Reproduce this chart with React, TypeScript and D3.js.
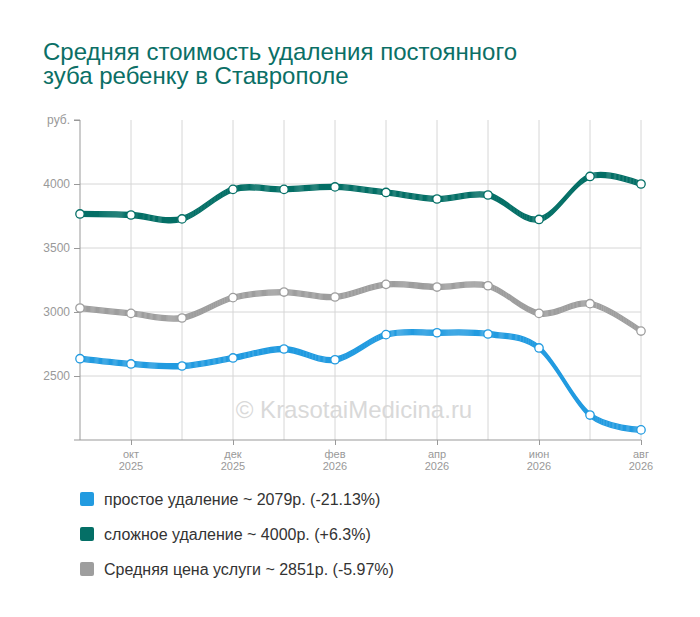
import { useEffect, useRef } from "react"
import * as d3 from "d3"

const months = ["сен", "окт", "ноя", "дек", "янв", "фев", "мар", "апр", "май", "июн", "июл", "авг"]
const years = ["2025", "2025", "2025", "2025", "2026", "2026", "2026", "2026", "2026", "2026", "2026", "2026"]
const simpleRemoval = [2635, 2594, 2578, 2641, 2711, 2627, 2823, 2838, 2828, 2719, 2195, 2079]
const complexRemoval = [3766, 3758, 3727, 3958, 3958, 3977, 3934, 3883, 3914, 3723, 4059, 4000]
const averagePrice = [3031, 2989, 2953, 3112, 3156, 3117, 3216, 3195, 3205, 2989, 3065, 2851]
const yTicks = [2500, 3000, 3500, 4000]
const labelledMonths = [1, 3, 5, 7, 9, 11]

const seriesList = [
  { name: "простое удаление ~ 2079р. (-21.13%)", values: simpleRemoval, color: "#229be0" },
  { name: "сложное удаление ~ 4000р. (+6.3%)", values: complexRemoval, color: "#046f66" },
  { name: "Средняя цена услуги ~ 2851р. (-5.97%)", values: averagePrice, color: "#9e9e9e" },
]

const width = 700
const height = 617
const font = "'Liberation Sans', Arial, sans-serif"

export default function App() {
  const svgRef = useRef<SVGSVGElement>(null)

  useEffect(() => {
    if (!svgRef.current) return
    const svg = d3.select(svgRef.current)
    svg.selectAll("*").remove()

    const left = 80
    const right = 641
    const top = 120
    const bottom = 440

    const x = d3.scaleLinear().domain([0, months.length - 1]).range([left, right])
    const y = d3.scaleLinear().domain([2000, 4500]).range([bottom, top])

    // Title
    const title = svg.append("text")
      .attr("x", 43)
      .attr("font-family", font)
      .attr("font-size", 24)
      .attr("fill", "#0b6f66")
    title.append("tspan").attr("x", 43).attr("y", 60).text("Средняя стоимость удаления постоянного")
    title.append("tspan").attr("x", 43).attr("y", 84).text("зуба ребенку в Ставрополе")

    // Watermark
    svg.append("text")
      .attr("x", 354)
      .attr("y", 418)
      .attr("text-anchor", "middle")
      .attr("font-family", font)
      .attr("font-size", 24)
      .attr("fill", "#d9d9d9")
      .text("© KrasotaiMedicina.ru")

    // Grid
    svg.append("g")
      .selectAll("line")
      .data(months.map((_, i) => i).slice(1))
      .join("line")
      .attr("x1", d => x(d))
      .attr("x2", d => x(d))
      .attr("y1", top)
      .attr("y2", bottom)
      .attr("stroke", "#d6d6d6")
      .attr("stroke-width", 1)

    svg.append("g")
      .selectAll("line")
      .data(yTicks)
      .join("line")
      .attr("x1", left)
      .attr("x2", right)
      .attr("y1", d => y(d))
      .attr("y2", d => y(d))
      .attr("stroke", "#d6d6d6")
      .attr("stroke-width", 1)

    // Y axis
    const yAxis = svg.append("g").attr("transform", `translate(${left},0)`)
      .call(d3.axisLeft(y).tickValues([...yTicks, 4500]).tickSize(6).tickPadding(4)
        .tickFormat(d => (d === 4500 ? "руб." : String(d))))
    yAxis.select(".domain").attr("stroke", "#999").attr("d", `M-6,${top}H0V${bottom}`)
    yAxis.selectAll(".tick line").attr("stroke", "#999")
    yAxis.selectAll("text")
      .attr("font-family", font)
      .attr("font-size", 12)
      .attr("fill", "#999")

    // X axis
    const xAxis = svg.append("g").attr("transform", `translate(0,${bottom})`)
      .call(d3.axisBottom(x).tickValues(labelledMonths).tickSize(5).tickFormat(() => ""))
    xAxis.select(".domain").attr("stroke", "#999").attr("d", `M${left - 6},0H${right}`)
    xAxis.selectAll(".tick line").attr("stroke", "#999")

    const xLabels = svg.append("g")
      .selectAll("text")
      .data(labelledMonths)
      .join("text")
      .attr("text-anchor", "middle")
      .attr("font-family", font)
      .attr("font-size", 11)
      .attr("fill", "#999")
    xLabels.append("tspan").attr("x", d => x(d)).attr("y", 458).text(d => months[d])
    xLabels.append("tspan").attr("x", d => x(d)).attr("y", 470).text(d => years[d])

    // Lines (ribbon made of stacked thin strokes)
    const line = d3.line<number>()
      .x((_, i) => x(i))
      .y(d => y(d))
      .curve(d3.curveCardinal.tension(0))

    const offsets = [-2.5, -1.5, -0.5, 0.5, 1.5, 2.5]
    seriesList.forEach(s => {
      const g = svg.append("g")
      offsets.forEach(o => {
        g.append("path")
          .datum(s.values)
          .attr("transform", `translate(0,${o})`)
          .attr("fill", "none")
          .attr("stroke", s.color)
          .attr("stroke-width", 1.3)
          .attr("d", line)
      })
      g.selectAll("circle")
        .data(s.values)
        .join("circle")
        .attr("cx", (_, i) => x(i))
        .attr("cy", d => y(d))
        .attr("r", 4.2)
        .attr("fill", "#fff")
        .attr("stroke", s.color)
        .attr("stroke-width", 1.3)
    })

    // Legend
    const legend = svg.append("g")
      .selectAll("g")
      .data(seriesList)
      .join("g")
      .attr("transform", (_, i) => `translate(80,${492 + i * 35})`)
    legend.append("rect")
      .attr("width", 14)
      .attr("height", 14)
      .attr("rx", 2)
      .attr("fill", d => d.color)
    legend.append("text")
      .attr("x", 24)
      .attr("y", 12.5)
      .attr("font-family", font)
      .attr("font-size", 16)
      .attr("fill", "#333")
      .text(d => d.name)
  }, [])

  return (
    <svg
      ref={svgRef}
      width={width}
      height={height}
      style={{ position: "absolute", left: 0, top: 0, background: "#fff" }}
    />
  )
}
